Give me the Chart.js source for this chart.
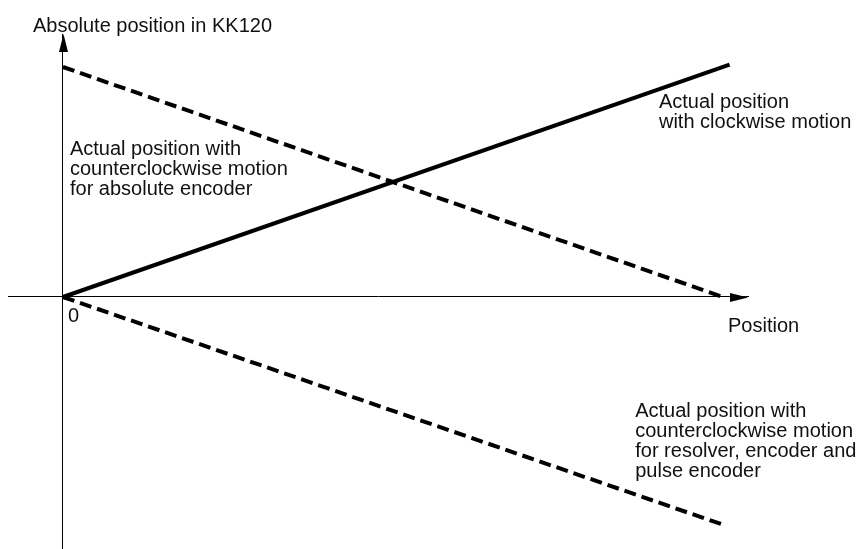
<!DOCTYPE html>
<html>
<head>
<meta charset="utf-8">
<script src="https://cdn.jsdelivr.net/npm/chart.js@4"></script>
<style>
  html, body { margin: 0; padding: 0; background: #fff; }
  #wrap { width: 860px; height: 549px; }
</style>
</head>
<body>
<div id="wrap"><canvas id="myChart"></canvas></div>
<script>
// series (x = position, y = absolute position in KK120)
const clockwiseX = [0, 101];
const clockwiseY = [0, 101];
const absCcwX = [0, 100];
const absCcwY = [100, 0];
const resolverCcwX = [0, 100];
const resolverCcwY = [0, -99];

const seriesNames = [
	'Actual position with clockwise motion',
	'Actual position with counterclockwise motion for absolute encoder',
	'Actual position with counterclockwise motion for resolver, encoder and pulse encoder'
];

const toPoints = (xs, ys) => xs.map((x, i) => ({ x: x, y: ys[i] }));

// text labels placed in data coordinates
const labels = [
	{ x: -4.55, y: 115.2, lines: ['Absolute position in KK120'] },
	{ x: 90.3, y: 82.2, lines: ['Actual position', 'with clockwise motion'] },
	{ x: 1.06, y: 61.7, lines: ['Actual position with', 'counterclockwise motion', 'for absolute encoder'] },
	{ x: 100.76, y: -15.2, lines: ['Position'] },
	{ x: 86.7, y: -52.2, lines: ['Actual position with', 'counterclockwise motion', 'for resolver, encoder and', 'pulse encoder'] },
	{ x: 0.76, y: -10.9, lines: ['0'] }
];

const FONT = '20px "Liberation Sans", Arial, sans-serif';

const axisArrows = {
	id: 'axisArrows',
	afterDraw(chart) {
		const c = chart.ctx;
		const xs = chart.scales.x, ys = chart.scales.y;
		const x0 = Math.round(xs.getPixelForValue(0)) + 0.5;
		const y0 = Math.round(ys.getPixelForValue(0)) + 0.5;
		const area = chart.chartArea;
		c.save();
		c.fillStyle = '#000';
		// up arrow on y axis
		c.beginPath();
		c.moveTo(x0, area.top);
		c.lineTo(x0 - 4.5, area.top + 18);
		c.lineTo(x0 + 4.5, area.top + 18);
		c.closePath();
		c.fill();
		// right arrow on x axis
		c.beginPath();
		c.moveTo(area.right, y0);
		c.lineTo(area.right - 18, y0 - 4.5);
		c.lineTo(area.right - 18, y0 + 4.5);
		c.closePath();
		c.fill();
		c.restore();
	}
};

const textLabels = {
	id: 'textLabels',
	afterDraw(chart) {
		const c = chart.ctx;
		const xs = chart.scales.x, ys = chart.scales.y;
		c.save();
		c.font = FONT;
		c.fillStyle = '#111';
		c.textAlign = 'left';
		c.textBaseline = 'alphabetic';
		labels.forEach(l => {
			const px = xs.getPixelForValue(l.x);
			const py = ys.getPixelForValue(l.y);
			l.lines.forEach((t, i) => c.fillText(t, px, py + i * 20));
		});
		c.restore();
	}
};

const axisOpts = {
	ticks: { display: false },
	grid: { display: true, drawOnChartArea: false, drawTicks: false, color: 'rgba(0,0,0,0)' },
	border: { display: true, color: '#000', width: 1 }
};

const ctx = document.getElementById('myChart').getContext('2d');
let myChart = new Chart(ctx, {
	type: 'line',
	data: {
		datasets: [
			{
				label: seriesNames[0],
				data: toPoints(clockwiseX, clockwiseY),
				borderColor: '#000',
				borderWidth: 4,
				pointRadius: 0,
				borderCapStyle: 'butt'
			},
			{
				label: seriesNames[1],
				data: toPoints(absCcwX, absCcwY),
				borderColor: '#000',
				borderWidth: 4,
				borderDash: [12, 6],
				pointRadius: 0
			},
			{
				label: seriesNames[2],
				data: toPoints(resolverCcwX, resolverCcwY),
				borderColor: '#000',
				borderWidth: 4,
				borderDash: [12, 6],
				pointRadius: 0
			}
		]
	},
	options: {
		responsive: true,
		maintainAspectRatio: false,
		animation: false,
		layout: { padding: { left: 8, right: 112, top: 34, bottom: 0 } },
		plugins: {
			legend: { display: false },
			tooltip: { enabled: false }
		},
		scales: {
			x: Object.assign({ type: 'linear', min: -8.33, max: 103.79, position: { y: 0 } }, axisOpts),
			y: Object.assign({ type: 'linear', min: -109.57, max: 114.35, position: { x: 0 } }, axisOpts)
		}
	},
	plugins: [axisArrows, textLabels]
});
</script>
</body>
</html>
